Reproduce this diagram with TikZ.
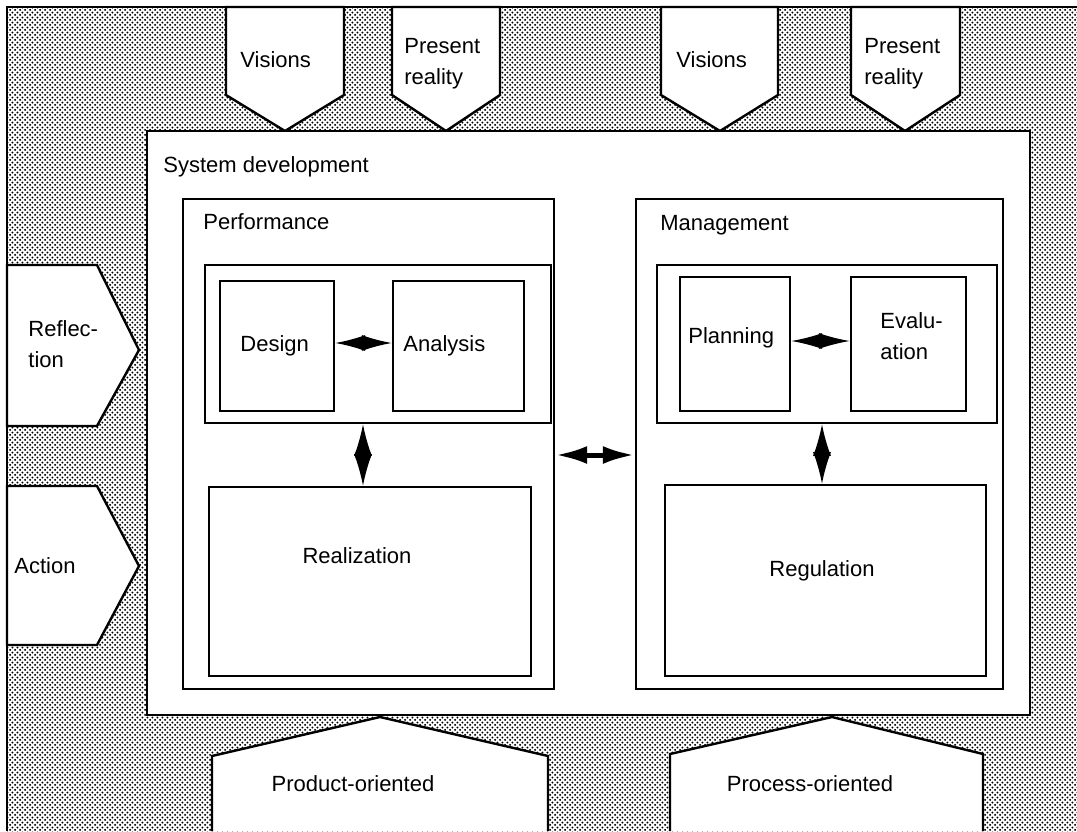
\documentclass[tikz,border=0pt]{standalone}
\usepackage{fontspec}
\setmainfont{Liberation Sans}
\usetikzlibrary{patterns.meta,fit,arrows.meta}

% halftone screen used for the surrounding field
\tikzdeclarepattern{
  name=screen,
  type=uncolored,
  bounding box={(0pt,0pt) and (2.4pt,2.4pt)},
  tile size={(2.4pt,2.4pt)},
  code={
    \fill (0.6pt,0.6pt) circle (0.55pt);
    \fill (1.8pt,1.8pt) circle (0.55pt);
  }
}

\begin{document}
\begin{tikzpicture}[x=0.5pt,y=-0.5pt,
  every node/.style={font=\fontsize{11}{15.5}\selectfont},
  frame/.style={line width=1.2pt, line join=miter},
  box/.style={draw, line width=1.2pt, fill=white, inner sep=0pt},
  lbl/.style={inner sep=0pt, anchor=base west},
  mlbl/.style={inner sep=0pt, anchor=west, align=left},
  clbl/.style={inner sep=0pt, anchor=base},
  bigdbl/.style={line width=0.8pt,
    {Latex[length=15.8pt,width=9pt]}-{Latex[length=15.8pt,width=9pt]}},
  diadbl/.style={line width=0.8pt,
    {Latex[length=#1,width=8pt]}-{Latex[length=#1,width=8pt]}},
  linkdbl/.style={line width=2.5pt,
    {Latex[length=16pt,width=9pt]}-{Latex[length=16pt,width=9pt]}}
]
\useasboundingbox (0,0) rectangle (1077,831);

% screened background with its top and left rules
\fill[pattern=screen, pattern color=black] (7,7) rectangle (1077,831);
\draw[frame] (1077,7) -- (7,7) -- (7,831);

% inputs from above
\draw[frame, fill=white] (226,7) -- (344,7) -- (344,95) -- (285,131) -- (226,95) -- cycle;
\draw[frame, fill=white] (392,7) -- (500,7) -- (500,95) -- (446,131) -- (392,95) -- cycle;
\draw[frame, fill=white] (661,7) -- (778,7) -- (778,95) -- (720,131) -- (661,95) -- cycle;
\draw[frame, fill=white] (851,7) -- (960,7) -- (960,95) -- (905,131) -- (851,95) -- cycle;
\node[lbl] (vis1) at (240,67) {Visions};
\node[mlbl] (pre1) at (404,64) {Present\\reality};
\node[lbl] (vis2) at (676,67) {Visions};
\node[mlbl] (pre2) at (864,64) {Present\\reality};

% inputs from the left
\draw[frame, fill=white] (7,265) -- (97,265) -- (139,350) -- (97,426) -- (7,426) -- cycle;
\draw[frame, fill=white] (7,486) -- (97,486) -- (139,566) -- (97,645) -- (7,645) -- cycle;
\node[mlbl] (refl) at (28,344) {Reflec-\\tion};
\node[lbl] (act) at (14,573) {Action};

% inputs from below
\fill[white] (212,831) -- (212,756) -- (380,717) -- (548,756) -- (548,831) -- cycle;
\draw[frame] (212,831) -- (212,756) -- (380,717) -- (548,756) -- (548,831);
\fill[white] (670,831) -- (670,754) -- (832,717) -- (983,754) -- (983,831) -- cycle;
\draw[frame] (670,831) -- (670,754) -- (832,717) -- (983,754) -- (983,831);
\node[clbl] (prod) at (353,791) {Product-oriented};
\node[clbl] (proc) at (810,791) {Process-oriented};

% system development
\node[box, fit={(147,131) (1030,715)}] (sysdev) {};
\node[lbl] (sdlabel) at (163,172) {System development};

% performance side
\node[box, fit={(183,199) (554,689)}] (perf) {};
\node[lbl] (perflabel) at (203,229) {Performance};
\node[box, fit={(205,265) (551,423)}] (perfin) {};
\node[box, fit={(220,281) (334,411)}] (design) {};
\node[box, fit={(393,281) (524,411)}] (analysis) {};
\node[lbl] at (240,351) (designlabel) {Design};
\node[lbl] at (403,351) (analysislabel) {Analysis};
\node[box, fit={(209,487) (531,676)}] (real) {};
\node[clbl] (reallabel) at (357,563) {Realization};

% management side
\node[box, fit={(636,199) (1003,689)}] (mgmt) {};
\node[lbl] (mgmtlabel) at (660,230) {Management};
\node[box, fit={(657,265) (997,423)}] (mgmtin) {};
\node[box, fit={(680,277) (790,411)}] (plan) {};
\node[box, fit={(851,277) (966,411)}] (eval) {};
\node[lbl] (planlabel) at (688,343) {Planning};
\node[mlbl] (evallabel) at (880,336) {Evalu-\\ation};
\node[box, fit={(665,485) (986,676)}] (reg) {};
\node[clbl] (reglabel) at (822,576) {Regulation};

% interactions
\coordinate (pcol) at (363,0);
\coordinate (mcol) at (822,0);
\coordinate (mid) at (0,455);
\draw[diadbl=15pt] (design.east |- 0,343) -- (analysis.west |- 0,343);
\draw[diadbl=15.5pt] (plan.east |- 0,341) -- (eval.west |- 0,341);
\draw[bigdbl] (perfin.south -| pcol) -- (real.north -| pcol);
\draw[bigdbl] (mgmtin.south -| mcol) -- (reg.north -| mcol);
\draw[linkdbl] (perf.east |- mid) -- (mgmt.west |- mid);
\end{tikzpicture}
\end{document}
